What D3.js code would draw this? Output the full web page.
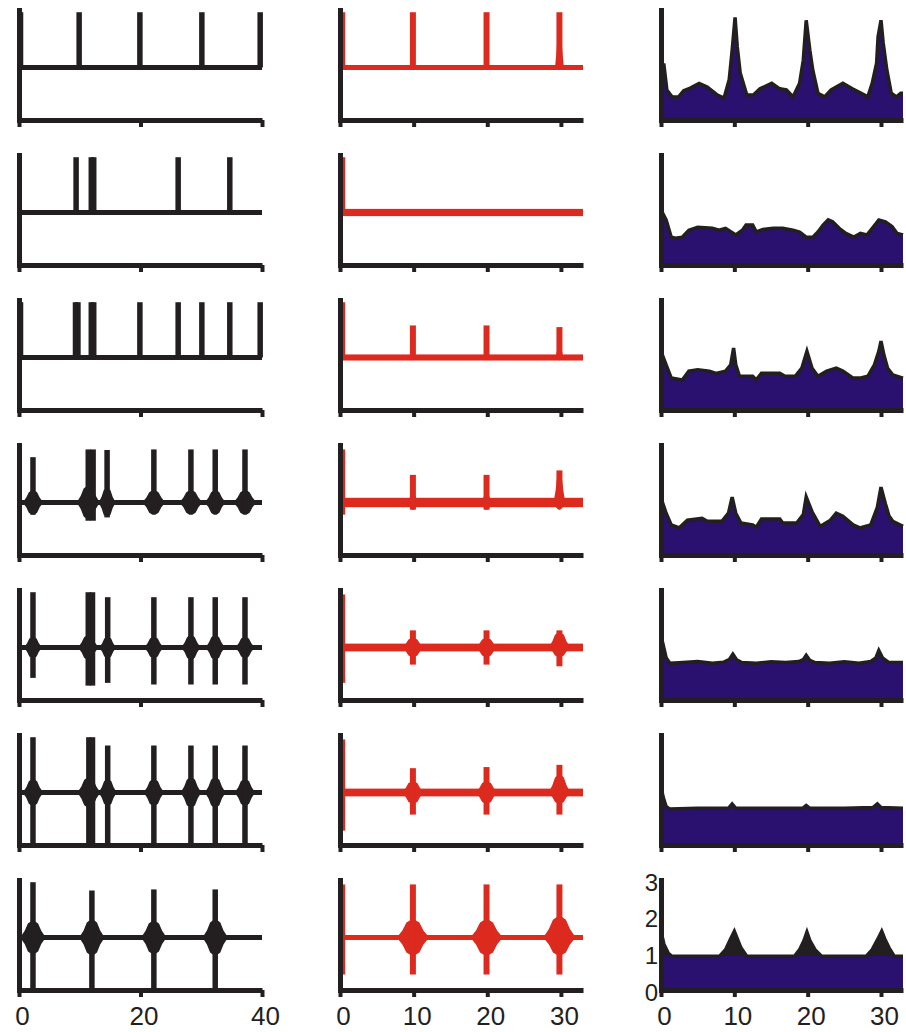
<!DOCTYPE html>
<html><head><meta charset="utf-8">
<script src="https://cdn.jsdelivr.net/npm/d3@7"></script>
<style>body{margin:0;background:#fff}svg{display:block}</style>
</head><body>
<svg id="c" width="906" height="1032"></svg>
<script>
// ---------- DATA ----------
// Column 1 (black spike trains): [time, top, bottom, blobHalfWidth, blobHalfHeight]
const trainRow1 = [[0.25,1,0,0,0],[9.9,1,0,0,0],[19.9,1,0,0,0],[30.1,1,0,0,0],[39.7,1,0,0,0]];
const trainRow2 = [[9.4,1,0,0,0],[11.9,1,0,0,0],[12.3,1,0,0,0],[26.2,1,0,0,0],[34.7,1,0,0,0]];
const trainRow3 = [[0.25,1,0,0,0],[9.3,1,0,0,0],[9.7,1,0,0,0],[11.9,1,0,0,0],[12.3,1,0,0,0],[19.9,1,0,0,0],[26.2,1,0,0,0],[30.1,1,0,0,0],[34.7,1,0,0,0],[39.7,1,0,0,0]];
const trainRow4 = [[2.3,0.82,-0.22,1.7,0.22],[11.4,0.96,-0.33,1.9,0.3],[12.2,0.96,-0.33,0,0],[14.5,0.95,-0.27,1.4,0.26],[22.2,0.96,-0.2,1.9,0.22],[28.3,0.96,-0.2,1.9,0.22],[32.3,0.96,-0.2,1.7,0.22],[37.2,0.96,-0.2,1.9,0.22]];
const trainRow5 = [[2.3,1,-0.55,1.5,0.19],[11.4,1,-0.69,1.7,0.22],[12.1,1,-0.69,0,0],[14.6,0.91,-0.64,1.4,0.19],[22.2,0.91,-0.67,1.6,0.19],[28.3,0.91,-0.67,1.6,0.22],[32.3,0.91,-0.67,1.6,0.22],[37.2,0.91,-0.67,1.6,0.19]];
const trainRow6 = [[2.3,1,-0.95,1.7,0.24],[11.5,1,-0.95,1.9,0.27],[12.1,1,-0.95,0,0],[14.6,0.85,-0.95,1.5,0.24],[22.2,0.85,-0.95,1.7,0.24],[28.3,0.85,-0.95,1.7,0.27],[32.3,0.85,-0.95,1.7,0.27],[37.2,0.85,-0.95,1.7,0.24]];
const trainRow7 = [[2.3,1,-0.95,2.1,0.3],[12.0,0.85,-0.95,2.1,0.32],[22.2,0.87,-0.95,2.1,0.3],[32.3,0.87,-0.95,2.1,0.32]];
const trains = [trainRow1,trainRow2,trainRow3,trainRow4,trainRow5,trainRow6,trainRow7];

// Column 2 (red averaged traces): [time, top, bottom, blobHalfWidth, blobUp, blobDown]
const redRow1 = [[0.3,1,0,0,0,0],[9.9,1,-0.03,0.3,0.3,0.03],[19.9,1,0,0,0,0],[29.8,1,0,0.6,0.75,0.03]];
const redRow2 = [[0.3,1,0,0,0,0]];
const redRow3 = [[0.3,1,0,0,0,0],[9.9,0.58,-0.03,0.3,0.15,0.05],[19.9,0.58,0,0.2,0.1,0.05],[29.8,0.55,0,0.5,0.35,0.05]];
const redRow4 = [[0.3,0.96,-0.22,0,0,0],[9.9,0.5,-0.13,0.8,0.15,0.13],[19.9,0.5,-0.13,0.8,0.15,0.13],[29.8,0.58,-0.1,0.8,0.55,0.13]];
const redRow5 = [[0.3,0.96,-0.64,0.5,0.1,0.1],[9.9,0.31,-0.31,1.5,0.17,0.17],[19.9,0.31,-0.31,1.5,0.17,0.17],[29.8,0.31,-0.34,1.5,0.27,0.17]];
const redRow6 = [[0.3,0.96,-0.69,0.5,0.1,0.1],[9.9,0.44,-0.4,1.5,0.2,0.2],[19.9,0.46,-0.4,1.5,0.2,0.2],[29.8,0.5,-0.4,1.5,0.32,0.2]];
const redRow7 = [[0.3,0.96,-0.67,0.35,0.15,0.15],[9.9,0.96,-0.67,2.2,0.32,0.32],[19.9,0.96,-0.67,2.2,0.32,0.32],[29.8,0.96,-0.67,2.2,0.38,0.32]];
const redTraces = [redRow1,redRow2,redRow3,redRow4,redRow5,redRow6,redRow7];
const redNoise = [0,0.02,0.01,0.04,0.025,0.025,0];

// Column 3 (histograms): [time, value]
const hist1 = [[0,1.5],[0.4,1.5],[0.8,0.82],[1.5,0.63],[2.4,0.63],[3.1,0.8],[4.0,0.87],[5.2,1.0],[6.3,0.9],[7.7,0.68],[8.6,0.6],[9.3,1.1],[9.7,1.9],[10.1,2.8],[10.4,2.0],[10.8,1.28],[11.7,0.68],[12.6,0.68],[13.5,0.85],[15.1,1.0],[16.2,0.85],[17.1,0.82],[18.0,0.63],[18.9,1.0],[19.4,1.63],[19.8,2.72],[20.3,1.9],[20.7,1.36],[21.4,0.73],[22.3,0.63],[23.2,0.82],[24.8,1.0],[26.1,0.85],[27.3,0.73],[28.2,0.63],[28.8,1.0],[29.4,1.55],[29.6,2.27],[30.0,2.72],[30.3,2.1],[30.8,1.36],[31.4,0.73],[32.1,0.63],[32.7,0.73],[33,0.73]];
const hist2 = [[0,1.5],[0.7,1.23],[1.4,0.76],[2.0,0.73],[2.9,0.76],[3.8,0.95],[5.0,1.03],[7.0,1.0],[7.9,0.95],[8.8,1.0],[10.2,0.82],[11.1,0.95],[11.6,1.09],[12.5,1.09],[13.0,0.9],[13.9,0.97],[15.3,1.0],[16.6,1.0],[18.0,0.95],[18.9,0.9],[19.8,0.76],[20.7,0.76],[21.4,0.9],[22.1,1.09],[22.8,1.23],[23.4,1.18],[24.3,1.0],[25.2,0.86],[26.3,0.76],[27.2,0.86],[28.1,0.82],[29.0,1.05],[29.7,1.23],[30.6,1.18],[31.5,1.05],[32.2,0.86],[33,0.82]];
const hist3 = [[0,1.6],[0.7,1.23],[1.4,0.87],[2.9,0.82],[3.8,1.06],[5.0,1.1],[6.6,1.06],[7.5,1.0],[8.8,1.06],[9.5,1.23],[9.9,1.69],[10.2,1.23],[10.7,0.92],[12.5,0.92],[13.0,0.82],[13.7,1.0],[16.2,1.0],[16.9,0.92],[18.3,0.92],[19.2,1.14],[19.9,1.6],[20.6,1.14],[21.4,0.92],[22.6,1.06],[23.9,1.14],[24.8,1.06],[26.2,0.87],[27.1,0.87],[28.2,0.92],[29.1,1.23],[29.7,1.6],[30.0,1.88],[30.4,1.5],[30.9,1.14],[31.6,0.96],[33,0.87]];
const hist4 = [[0,1.55],[0.7,1.14],[1.4,0.82],[2.5,0.74],[3.6,0.95],[5.6,1.0],[6.3,0.92],[8.3,0.92],[9.2,1.14],[9.7,1.58],[10.2,1.14],[10.9,0.87],[12.5,0.82],[13.0,0.76],[13.7,0.98],[16.2,0.98],[16.6,0.87],[18.5,0.87],[19.4,1.1],[19.8,1.58],[20.6,1.18],[21.7,0.78],[23.1,0.95],[23.9,1.14],[24.8,1.06],[26.2,0.82],[27.1,0.74],[28.6,0.82],[29.5,1.3],[30.0,1.85],[30.6,1.4],[31.1,1.06],[31.6,0.92],[33,0.78]];
const hist5 = [[0,1.75],[0.3,1.5],[0.7,1.15],[1.2,1.0],[3,1.02],[5,1.05],[7,1.0],[8.5,1.03],[9.3,1.1],[9.8,1.25],[10.3,1.1],[11,1.02],[13,1.0],[15,1.04],[17,1.02],[18.8,1.05],[19.4,1.1],[19.8,1.22],[20.3,1.08],[21,1.02],[23,1.0],[25,1.04],[27,1.0],[28.6,1.05],[29.3,1.15],[29.7,1.35],[30.2,1.15],[31,1.03],[33,1.02]];
const hist6 = [[0,1.6],[0.3,1.3],[0.7,1.05],[1.2,0.98],[5,1.0],[9.2,1.0],[9.7,1.12],[10.2,1.0],[15,1.0],[19.3,1.0],[19.8,1.08],[20.3,1.0],[25,1.0],[28.9,1.02],[29.5,1.12],[30.0,1.02],[33,1.0]];
const hist7 = [[0,1.6],[0.4,1.25],[1.0,1.0],[1.5,0.92],[8.0,0.92],[8.8,1.1],[9.5,1.4],[10.0,1.6],[10.4,1.4],[10.9,1.15],[11.7,0.92],[18.2,0.92],[18.9,1.1],[19.5,1.35],[19.9,1.58],[20.3,1.35],[21.0,1.1],[21.9,0.92],[28.0,0.92],[28.8,1.1],[29.6,1.4],[30.1,1.6],[30.5,1.4],[31.1,1.15],[31.8,0.92],[33,0.92]];
const hists = [hist1,hist2,hist3,hist4,hist5,hist6,hist7];
// level above which the histogram is drawn solid black (dense noise in the original)
const histBlueCap = [Infinity,Infinity,Infinity,Infinity,Infinity,Infinity,0.93];

const ticks1 = [0,20,40];
const ticks23 = [0,10,20,30];
const yTicks3 = [0,1,2,3];

// ---------- DRAWING ----------
const BLACK = "#231f20", RED = "#dc2a1f", BLUE = "#2a1170";
const FONT = "'Liberation Sans', Arial, sans-serif";
const svg = d3.select("#c");
const nRows = 7;
const axisYOf = k => 120 + 145 * k;
const colRange = [[19,262],[340,583],[661,903]];
const xDom = [[0,40],[0,33],[0,33]];

// burst around the baseline: tapered along the trace, fat near the spike
function blobPath(t, hw, hu, hd, x, y) {
  const pts = [[t-hw,0],[t-hw*0.65,hu*0.4],[t-hw*0.4,hu*0.85],[t-hw*0.12,hu],[t+hw*0.12,hu],[t+hw*0.4,hu*0.85],[t+hw*0.65,hu*0.4],[t+hw,0],
               [t+hw*0.65,-hd*0.4],[t+hw*0.4,-hd*0.85],[t+hw*0.12,-hd],[t-hw*0.12,-hd],[t-hw*0.4,-hd*0.85],[t-hw*0.65,-hd*0.4]];
  return d3.line().x(p => x(p[0])).y(p => y(p[1])).curve(d3.curveLinearClosed)(pts);
}

function drawAxes(g, x, yAxisScale, ay, ticks, last, yLabels) {
  const ax = g.append("g").attr("transform", `translate(0,${ay})`)
    .call(d3.axisBottom(x).tickValues(ticks).tickSize(7).tickSizeOuter(0).tickPadding(10)
      .tickFormat(last ? d3.format("d") : () => ""));
  ax.select(".domain").attr("stroke", BLACK).attr("stroke-width", 5);
  ax.selectAll(".tick line").attr("stroke", BLACK).attr("stroke-width", 4);
  ax.selectAll(".tick text").attr("fill", BLACK).attr("font-size", 26)
    .attr("font-family", FONT).attr("dx", 3);
  const yax = g.append("g").attr("transform", `translate(${x.range()[0]},0)`)
    .call(d3.axisLeft(yAxisScale).tickValues(yLabels ? yTicks3 : []).tickSize(0).tickSizeOuter(0).tickPadding(3)
      .tickFormat(d3.format("d")));
  yax.select(".domain").attr("stroke", BLACK).attr("stroke-width", 5).attr("stroke-linecap", "square");
  yax.selectAll(".tick text").attr("fill", BLACK).attr("font-size", 24)
    .attr("font-family", FONT).attr("dy", "0.42em");
}

for (let k = 0; k < nRows; k++) {
  const ay = axisYOf(k);
  const last = k === nRows - 1;
  const yV = d3.scaleLinear([-0.95, 1.04], [ay, ay - 110]);

  // Column 1
  {
    const x = d3.scaleLinear(xDom[0], colRange[0]);
    const g = svg.append("g");
    g.append("line").attr("x1", x(0)).attr("x2", x(40)).attr("y1", yV(0)).attr("y2", yV(0))
      .attr("stroke", BLACK).attr("stroke-width", 5);
    g.selectAll("path.blob").data(trains[k].filter(d => d[3] > 0)).join("path")
      .attr("d", d => blobPath(d[0], d[3], d[4], d[4], x, yV)).attr("fill", BLACK);
    g.selectAll("line.sp").data(trains[k]).join("line")
      .attr("x1", d => x(d[0])).attr("x2", d => x(d[0]))
      .attr("y1", d => yV(d[1])).attr("y2", d => yV(Math.min(d[2], 0)))
      .attr("stroke", BLACK).attr("stroke-width", 5.5);
    drawAxes(g, x, yV, ay, ticks1, last, false);
  }
  // Column 2
  {
    const x = d3.scaleLinear(xDom[1], colRange[1]);
    const g = svg.append("g");
    const n = redNoise[k];
    g.append("rect").attr("x", x(0)).attr("width", x(33) - x(0))
      .attr("y", yV(n) - 2.5).attr("height", yV(-n) - yV(n) + 5).attr("fill", RED);
    g.selectAll("path.blob").data(redTraces[k].filter(d => d[3] > 0)).join("path")
      .attr("d", d => blobPath(d[0], d[3], d[4], d[5], x, yV)).attr("fill", RED);
    g.selectAll("line.sp").data(redTraces[k]).join("line")
      .attr("x1", d => x(d[0])).attr("x2", d => x(d[0]))
      .attr("y1", d => yV(d[1])).attr("y2", d => yV(d[2]))
      .attr("stroke", RED).attr("stroke-width", 6);
    drawAxes(g, x, yV, ay, ticks23, last, false);
  }
  // Column 3
  {
    const x = d3.scaleLinear(xDom[2], colRange[2]);
    const y = d3.scaleLinear([0, 3], [ay, ay - 110]);
    const g = svg.append("g");
    const cap = histBlueCap[k];
    const area = d3.area().x(d => x(d[0])).y0(y(0));
    const line = d3.line().x(d => x(d[0])).y(d => y(d[1]));
    g.append("path").attr("d", area.y1(d => y(d[1]))(hists[k])).attr("fill", BLACK);
    g.append("path").attr("d", area.y1(d => y(Math.min(d[1], cap)))(hists[k])).attr("fill", BLUE);
    g.append("path").attr("d", line(hists[k])).attr("fill", "none").attr("stroke", BLACK)
      .attr("stroke-width", 3.5).attr("stroke-linejoin", "miter");
    drawAxes(g, x, y, ay, ticks23, last, last);
  }
}
</script>
</body></html>
